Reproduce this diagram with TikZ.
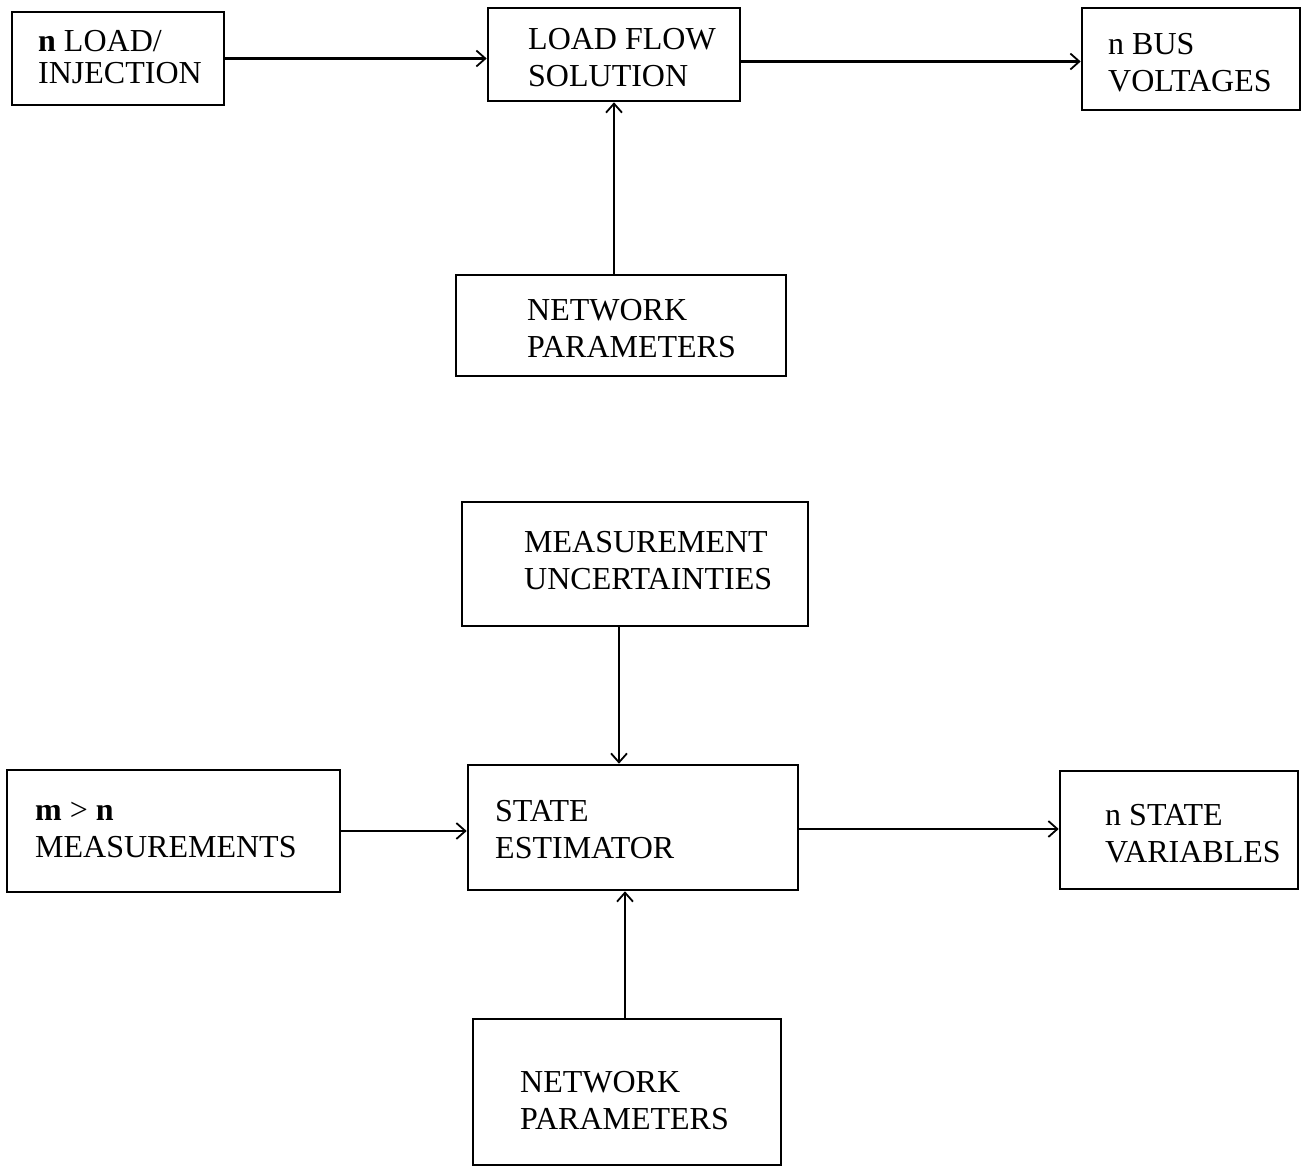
\documentclass[tikz,border=0pt]{standalone}
\usepackage{fontspec}
\setmainfont{Liberation Serif}
\usetikzlibrary{arrows.meta}
\begin{document}
\begin{tikzpicture}[x=1pt,y=-1pt,
  box/.style={draw, line width=2.6pt, rectangle, inner sep=0pt},
  lbl/.style={anchor=base west, inner sep=0pt, align=left,
    font=\fontsize{32}{37}\selectfont},
  flow/.style={line width=2.2pt, -{Straight Barb[length=9pt,width=16pt,line width=1.8pt]}}]
\useasboundingbox (0,0) rectangle (1302,1168);

% load flow part (label positions give the baseline of the last line)
\node[box, minimum width=212pt, minimum height=93pt] (inj) at (118,58.5) {};
\node[lbl] (injt) at (38,83) {\textbf{n} LOAD/\\[-5pt]INJECTION};
\node[box, minimum width=252pt, minimum height=93pt] (lf) at (614,54.5) {};
\node[lbl] (lft) at (528,86) {LOAD FLOW\\SOLUTION};
\node[box, minimum width=218pt, minimum height=102pt] (bus) at (1191,59) {};
\node[lbl] (bust) at (1108,91) {n BUS\\VOLTAGES};
\node[box, minimum width=330pt, minimum height=101pt] (npa) at (621,325.5) {};
\node[lbl] (npat) at (527,357) {NETWORK\\PARAMETERS};

\draw[flow] (inj.east) -- (inj.east -| lf.west);
\draw[flow] ([yshift=-7pt]lf.east) -- ([yshift=-7pt]lf.east -| bus.west);
\draw[flow] (lf.south |- npa.north) -- (lf.south);

% state estimation part
\node[box, minimum width=346pt, minimum height=124pt] (mu) at (635,564) {};
\node[lbl] (mut) at (524,589) {MEASUREMENT\\UNCERTAINTIES};
\node[box, minimum width=333pt, minimum height=122pt] (meas) at (173.5,831) {};
\node[lbl] (meast) at (35,857) {\textbf{m} > \textbf{n}\\MEASUREMENTS};
\node[box, minimum width=330pt, minimum height=125pt] (se) at (633,827.5) {};
\node[lbl] (set) at (495,858) {STATE\\ESTIMATOR};
\node[box, minimum width=238pt, minimum height=118pt] (sv) at (1179,830) {};
\node[lbl] (svt) at (1105,862) {n STATE\\VARIABLES};
\node[box, minimum width=308pt, minimum height=146pt] (npb) at (627,1092) {};
\node[lbl] (npbt) at (520,1129) {NETWORK\\PARAMETERS};

\draw[flow] ([xshift=-16pt]mu.south) -- ([xshift=-16pt]mu.south |- se.north);
\draw[flow] (meas.east) -- (meas.east -| se.west);
\draw[flow] ([yshift=-1.5pt]se.east) -- ([yshift=-1.5pt]se.east -| sv.west);
\draw[flow] ([xshift=-2pt]npb.north) -- ([xshift=-2pt]npb.north |- se.south);
\end{tikzpicture}
\end{document}
